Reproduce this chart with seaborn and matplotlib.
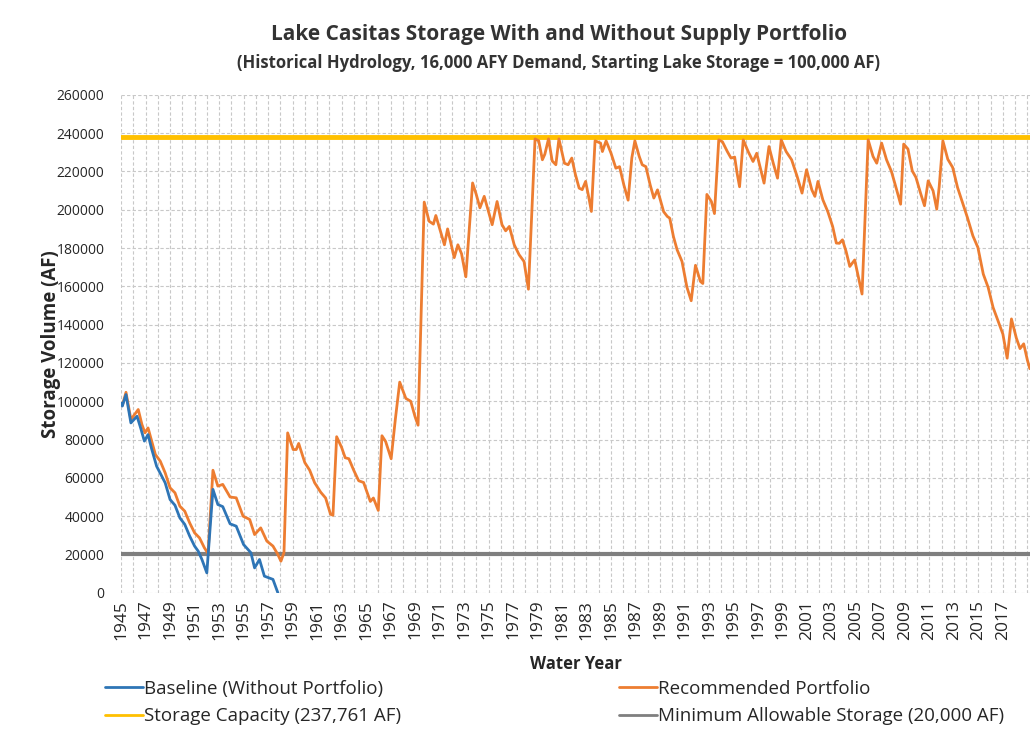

# Lake Casitas storage chart: baseline vs recommended portfolio

import matplotlib
matplotlib.use("Agg")
import matplotlib.pyplot as plt
import numpy as np
import seaborn as sns

# Recommended portfolio storage (AF)
portfolio_year = [
    1945.0, 1945.1, 1945.4, 1945.8, 1946.4, 1946.7, 1946.95, 1947.2, 1947.8, 1948.2,
    1948.6, 1949.0, 1949.4, 1949.8, 1950.2, 1950.6, 1951.0, 1951.4, 1951.8, 1952.1,
    1952.5, 1952.9, 1953.3, 1953.9, 1954.4, 1954.96, 1955.5, 1955.9, 1956.4, 1956.9,
    1957.4, 1957.8, 1958.05, 1958.3, 1958.6, 1959.05, 1959.3, 1959.5, 1960.0, 1960.4,
    1960.8, 1961.3, 1961.7, 1962.1, 1962.3, 1962.6, 1963.0, 1963.3, 1963.6, 1964.0,
    1964.4, 1964.8, 1965.1, 1965.35, 1965.6, 1966.0, 1966.3, 1966.6, 1967.05, 1967.4,
    1967.75, 1968.25, 1968.65, 1969.0, 1969.25, 1969.75, 1970.15, 1970.5, 1970.7, 1971.0,
    1971.4, 1971.66, 1972.2, 1972.5, 1972.8, 1973.15, 1973.7, 1974.0, 1974.3, 1974.65,
    1975.0, 1975.3, 1975.7, 1976.1, 1976.4, 1976.7, 1977.1, 1977.5, 1977.9, 1978.26,
    1978.8, 1979.1, 1979.4, 1979.6, 1979.9, 1980.2, 1980.5, 1980.75, 1981.2, 1981.5,
    1981.8, 1982.1, 1982.4, 1982.65, 1982.93, 1983.2, 1983.4, 1983.7, 1984.15, 1984.3,
    1984.6, 1985.0, 1985.4, 1985.7, 1986.05, 1986.4, 1986.7, 1986.95, 1987.3, 1987.55,
    1987.85, 1988.2, 1988.5, 1988.8, 1989.3, 1989.6, 1989.8, 1990.1, 1990.4, 1990.8,
    1991.2, 1991.55, 1991.9, 1992.3, 1992.5, 1992.83, 1993.2, 1993.45, 1993.8, 1994.1,
    1994.5, 1994.8, 1995.1, 1995.3, 1995.5, 1995.8, 1996.2, 1996.6, 1996.9, 1997.2,
    1997.5, 1997.9, 1998.25, 1998.6, 1998.9, 1999.3, 1999.75, 2000.2, 2000.6, 2000.97,
    2001.4, 2001.65, 2001.9, 2002.3, 2002.7, 2003.1, 2003.4, 2003.65, 2003.9, 2004.2,
    2004.5, 2004.9, 2005.1, 2005.5, 2006.0, 2006.4, 2006.7, 2007.1, 2007.5, 2007.9,
    2008.3, 2008.65, 2008.9, 2009.25, 2009.6, 2009.9, 2010.3, 2010.6, 2010.9, 2011.3,
    2011.6, 2011.8, 2012.1, 2012.5, 2012.9, 2013.3, 2013.7, 2014.1, 2014.55, 2014.96,
    2015.4, 2015.8, 2016.2, 2016.6, 2017.0, 2017.35, 2017.7, 2018.1, 2018.4, 2018.7,
    2019.0, 2019.2,
]
portfolio_af = [
    99000, 97800, 104700, 90500, 95700, 87900, 83500, 86100, 72200, 68700,
    62600, 54800, 52200, 45200, 42600, 36500, 31300, 28700, 23500, 20500,
    64000, 55700, 56600, 50000, 49600, 40000, 38300, 30400, 33900, 27000,
    24400, 20000, 16500, 21000, 83500, 74800, 74800, 78000, 68000, 64000,
    57500, 52500, 49500, 41000, 40500, 81500, 76000, 70500, 70000, 63900,
    58500, 57600, 52200, 47700, 49500, 43000, 82000, 79000, 70000, 91000,
    110000, 101500, 100000, 92000, 87500, 204000, 194000, 192500, 197000, 190400,
    181700, 190000, 175000, 181700, 177000, 165000, 214000, 208000, 201000, 207000,
    199000, 192200, 204300, 192200, 189000, 191300, 181700, 176500, 173000, 158500,
    237000, 236000, 226100, 229000, 237000, 225500, 223500, 237000, 224300, 223500,
    227000, 218300, 211300, 210500, 214800, 206100, 199100, 236000, 234800, 230400,
    236000, 229600, 221700, 222500, 213000, 205000, 227000, 236000, 228000, 223500,
    222500, 213000, 206100, 210400, 199000, 196500, 195600, 186000, 179100, 173000,
    159600, 152500, 171000, 162600, 161500, 208000, 204300, 198000, 236500, 235500,
    230400, 227000, 227500, 219000, 212000, 236500, 230400, 225200, 229500, 221700,
    213900, 233000, 224300, 216500, 236500, 230400, 226100, 217400, 208700, 220900,
    210400, 207000, 214800, 205200, 199100, 191300, 182600, 182500, 184300, 178200,
    170400, 173800, 167800, 156000, 236500, 227800, 224300, 234800, 226100, 220000,
    211000, 202900, 234300, 231700, 220300, 216900, 208200, 202100, 215100, 209900,
    200300, 212000, 236000, 226400, 222100, 211600, 203800, 196000, 186400, 180300,
    166400, 159400, 149000, 142000, 135100, 122500, 143000, 133000, 127500, 130000,
    121500, 117000,
]

# Baseline (without portfolio) storage (AF), drops to zero in 1957
baseline_year = [
    1945.0, 1945.1, 1945.4, 1945.8, 1946.3, 1946.6, 1946.9, 1947.2, 1947.5, 1947.9,
    1948.6, 1949.0, 1949.4, 1949.8, 1950.2, 1950.6, 1951.0, 1951.3, 1951.6, 1952.0,
    1952.5, 1952.9, 1953.3, 1953.9, 1954.4, 1955.0, 1955.6, 1955.9, 1956.3, 1956.7,
    1957.4, 1957.8,
]
baseline_af = [
    99000, 97500, 103500, 88700, 92200, 86000, 79200, 82600, 75000, 66100,
    57400, 48700, 45700, 39100, 35700, 29600, 24400, 21700, 17400, 10400,
    54000, 46100, 45000, 36000, 34800, 25200, 20900, 13000, 17400, 8700,
    7000, 0,
]

capacity_af = 237761
min_storage_af = 20000
year_labels = list(range(1945, 2018, 2))
y_ticks = list(range(0, 260001, 20000))

sns.set_theme(style="white")
plt.rcParams["font.family"] = ["Open Sans", "DejaVu Sans"]

fig = plt.figure(figsize=(10.35, 7.41), dpi=100)
ax = fig.add_axes([0.117, 0.2, 0.878, 0.672])

# Gridlines (yearly vertical, 20000 AF horizontal)
for yr in range(1945, 2020):
    ax.axvline(yr, color="#c8c8c8", lw=0.8, ls=(0, (3, 2)), zorder=0)
for v in y_ticks:
    ax.axhline(v, color="#c8c8c8", lw=0.8, ls=(0, (3, 2)), zorder=0)

sns.lineplot(x=baseline_year, y=baseline_af, ax=ax, color="#2E75B6", lw=2,
             sort=False, estimator=None, label="Baseline (Without Portfolio)", zorder=4)
ax.axhline(capacity_af, color="#FFC000", lw=3.5, zorder=2,
           label="Storage Capacity (237,761 AF)")
sns.lineplot(x=portfolio_year, y=portfolio_af, ax=ax, color="#ED7D31", lw=2,
             sort=False, estimator=None, label="Recommended Portfolio", zorder=3)
ax.axhline(min_storage_af, color="#7F7F7F", lw=3, zorder=2,
           label="Minimum Allowable Storage (20,000 AF)")

ax.set_xlim(1945, 2019.2)
ax.set_ylim(0, 260000)
ax.set_yticks(y_ticks)
ax.set_yticklabels([str(v) for v in y_ticks], fontsize=10)
ax.set_xticks(year_labels)
ax.set_xticklabels([str(y) for y in year_labels], rotation=90, fontsize=12.5)
ax.tick_params(axis="y", length=0, pad=12)
ax.tick_params(axis="x", length=0, pad=5)
for s in ax.spines.values():
    s.set_visible(False)

ax.set_xlabel("Water Year", fontsize=12, fontweight="bold", labelpad=11)
ax.set_ylabel("Storage Volume (AF)", fontsize=13.5, fontweight="bold", labelpad=-3)

fig.text(0.54, 0.953, "Lake Casitas Storage With and Without Supply Portfolio",
         ha="center", va="center", fontsize=15, fontweight="bold", color="#333333")
fig.text(0.54, 0.915,
         "(Historical Hydrology, 16,000 AFY Demand, Starting Lake Storage = 100,000 AF)",
         ha="center", va="center", fontsize=12, fontweight="bold", color="#333333")

handles, labels = ax.get_legend_handles_labels()
order = ["Baseline (Without Portfolio)", "Storage Capacity (237,761 AF)",
         "Recommended Portfolio", "Minimum Allowable Storage (20,000 AF)"]
hmap = dict(zip(labels, handles))
leg = ax.legend([hmap[k] for k in order], order, ncol=2, loc="upper left",
                bbox_to_anchor=(-0.0176, -0.175), frameon=False, fontsize=13.5,
                handlelength=2.0, handletextpad=0.1, columnspacing=11.6,
                labelspacing=0.5, borderaxespad=0, borderpad=0)
for line in leg.get_lines():
    line.set_linewidth(2)

fig.savefig("out.png", dpi=100)
